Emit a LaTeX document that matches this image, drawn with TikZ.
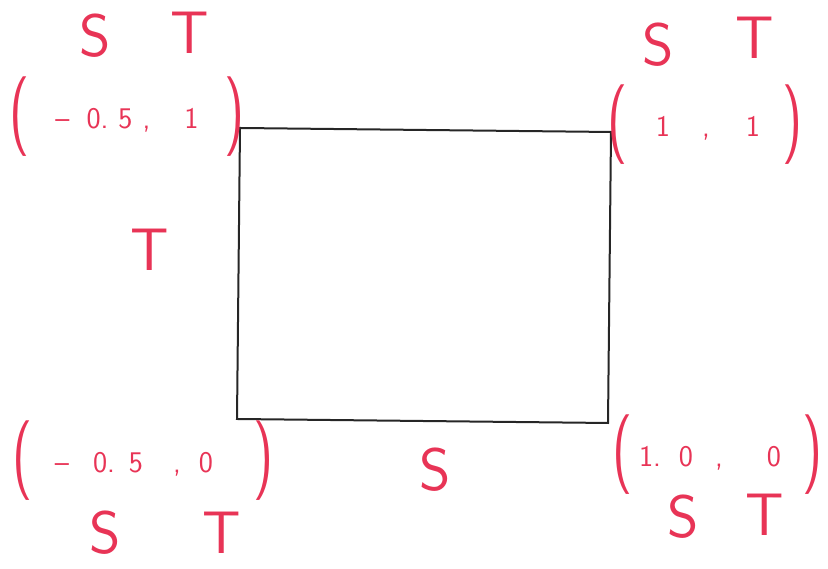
\documentclass[tikz,border=0pt]{standalone}
\definecolor{pen}{RGB}{232,52,86}
\tikzset{
  hand/.style={text=pen, inner sep=0pt, font=\sffamily\fontsize{60}{60}\selectfont},
  coordlbl/.style={text=pen, inner sep=0pt, font=\sffamily\fontsize{30}{30}\selectfont},
  box/.style={draw=black!85, line width=2pt, line join=miter}
}
\newcommand{\bigpar}[1]{\raisebox{-8pt}{\scalebox{1}[1.45]{\fontsize{55}{55}\selectfont #1}}}
\begin{document}
\begin{tikzpicture}[x=1pt,y=1pt]
\useasboundingbox (0,0) rectangle (828,569);
% rectangle corners
\coordinate (TL) at (240,441);
\coordinate (TR) at (611,437);
\coordinate (BR) at (608,146);
\coordinate (BL) at (237,150);
\draw[box] (TL) -- (TR) -- (BR) -- (BL) -- cycle;
% top left
\node[hand] (tlS) at (95,533) {S};
\node[hand] (tlT) at (190,536) {T};
\node[coordlbl] (tlC) at (127,452) {\bigpar{(}\hspace{26pt}--\hspace{17pt}0.\hspace{10pt}5\hspace{10pt},\hspace{34pt}1\hspace{26pt}\bigpar{)}};
% top right
\node[hand] (trS) at (658,524) {S};
\node[hand] (trT) at (755,531) {T};
\node[coordlbl] (trC) at (705,444) {\bigpar{(}\hspace{28pt}1\hspace{32pt},\hspace{36pt}1\hspace{22pt}\bigpar{)}};
% left
\node[hand] (lT) at (150,319) {T};
% bottom left
\node[coordlbl] (blC) at (143,108) {\bigpar{(}\hspace{22pt}--\hspace{24pt}0.\hspace{14pt}5\hspace{30pt},\hspace{18pt}0\hspace{40pt}\bigpar{)}};
\node[hand] (blS) at (105,36) {S};
\node[hand] (blT) at (222,36) {T};
% bottom middle
\node[hand] (bS) at (435,99) {S};
% bottom right
\node[coordlbl] (brC) at (718,114) {\bigpar{(}\hspace{6pt}1.\hspace{18pt}0\hspace{22pt},\hspace{44pt}0\hspace{22pt}\bigpar{)}};
\node[hand] (brS) at (683,52) {S};
\node[hand] (brT) at (765,54) {T};
\end{tikzpicture}
\end{document}
